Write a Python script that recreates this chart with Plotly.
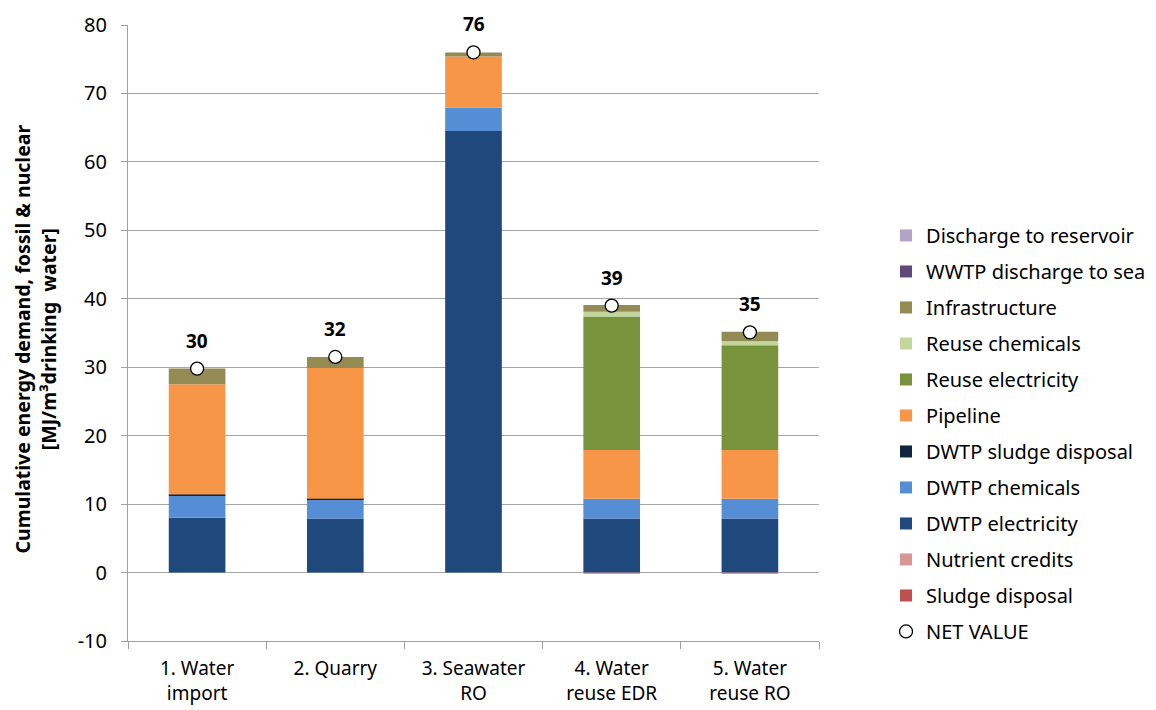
import plotly.graph_objects as go

categories = ["1. Water<br>import", "2. Quarry", "3. Seawater<br>RO", "4. Water<br>reuse EDR", "5. Water<br>reuse RO"]

# stacking order bottom-up
series_names = ["Sludge disposal", "Nutrient credits", "DWTP electricity", "DWTP chemicals",
                "DWTP sludge disposal", "Pipeline", "Reuse electricity", "Reuse chemicals",
                "Infrastructure", "WWTP discharge to sea", "Discharge to reservoir"]
sludge_disposal = [0, 0, 0, 0, 0]
nutrient_credits = [0, 0, 0, -0.15, -0.15]
dwtp_electricity = [8.0, 7.9, 64.5, 7.9, 7.9]
dwtp_chemicals = [3.2, 2.75, 3.4, 2.9, 2.9]
dwtp_sludge = [0.2, 0.15, 0.0, 0.0, 0.0]
pipeline = [16.1, 19.1, 7.5, 7.1, 7.1]
reuse_electricity = [0, 0, 0, 19.5, 15.3]
reuse_chemicals = [0, 0, 0, 0.7, 0.6]
infrastructure = [2.3, 1.6, 0.6, 1.0, 1.4]
wwtp_discharge = [0, 0, 0, 0, 0]
discharge_reservoir = [0, 0, 0, 0, 0]
net_value = [29.8, 31.5, 76.0, 39.0, 35.1]
net_labels = ["30", "32", "76", "39", "35"]

y_ticks = [-10, 0, 10, 20, 30, 40, 50, 60, 70, 80]
y_tick_labels = ["-10", "0", "10", "20", "30", "40", "50", "60", "70", "80"]

series_values = [sludge_disposal, nutrient_credits, dwtp_electricity, dwtp_chemicals,
                 dwtp_sludge, pipeline, reuse_electricity, reuse_chemicals,
                 infrastructure, wwtp_discharge, discharge_reservoir]
colors = ["#C0504D", "#D99694", "#1F497D", "#558ED5", "#10253F", "#F79646",
          "#77933C", "#C3D69B", "#948A54", "#604A7B", "#B3A2C7"]

FONT = "Noto Sans"
fig = go.Figure()
n = len(series_names)
for i, (name, vals, col) in enumerate(zip(series_names, series_values, colors)):
    fig.add_trace(go.Bar(x=categories, y=vals, name=name, marker_color=col,
                         marker_line_width=0, legendgroup=name, legendrank=n - i))

fig.add_trace(go.Scatter(x=categories, y=net_value, name="NET VALUE", mode="markers",
                         marker=dict(symbol="circle", size=13, color="white",
                                     line=dict(color="black", width=1.3)),
                         legendgroup="net", legendrank=n + 1))

for c, v, t in zip(categories, net_value, net_labels):
    fig.add_annotation(x=c, y=v, text=f"<b>{t}</b>", showarrow=False, yshift=28,
                       font=dict(size=19, family=FONT, color="black"))

fig.add_annotation(xref="paper", yref="paper", x=-0.134, y=0.49, textangle=-90,
                   text="<b>Cumulative energy demand, fossil & nuclear<br>[MJ/m³drinking  water]</b>",
                   showarrow=False, xanchor="center", yanchor="middle",
                   font=dict(size=19.5, family=FONT, color="black"))

fig.update_layout(
    width=1156, height=710,
    barmode="relative", bargap=0.59,
    plot_bgcolor="white", paper_bgcolor="white",
    margin=dict(l=120, r=345, t=17, b=77, autoexpand=False),
    font=dict(family=FONT, size=18, color="black"),
    legend=dict(traceorder="grouped", tracegroupgap=7, x=1.097, xanchor="left",
                y=0.69, yanchor="top", font=dict(size=20, family=FONT),
                itemwidth=30),
    showlegend=True,
)
fig.update_xaxes(showgrid=False, showline=True, linecolor="#A0A0A0", linewidth=1,
                 ticks="outside", tickson="boundaries", ticklen=7, tickcolor="#A0A0A0",
                 tickfont=dict(size=19, family=FONT), automargin=False,
                 ticklabelstandoff=10)
fig.update_yaxes(range=[-10, 80], tickvals=y_ticks, ticktext=y_tick_labels,
                 showgrid=True, gridcolor="#A6A6A6", gridwidth=1,
                 zeroline=False, showline=True, linecolor="#A0A0A0", linewidth=1,
                 ticks="outside", ticklen=6, tickcolor="#A0A0A0",
                 tickfont=dict(size=20, family=FONT), automargin=False,
                 ticklabelstandoff=10)

fig.write_html("out.html")
